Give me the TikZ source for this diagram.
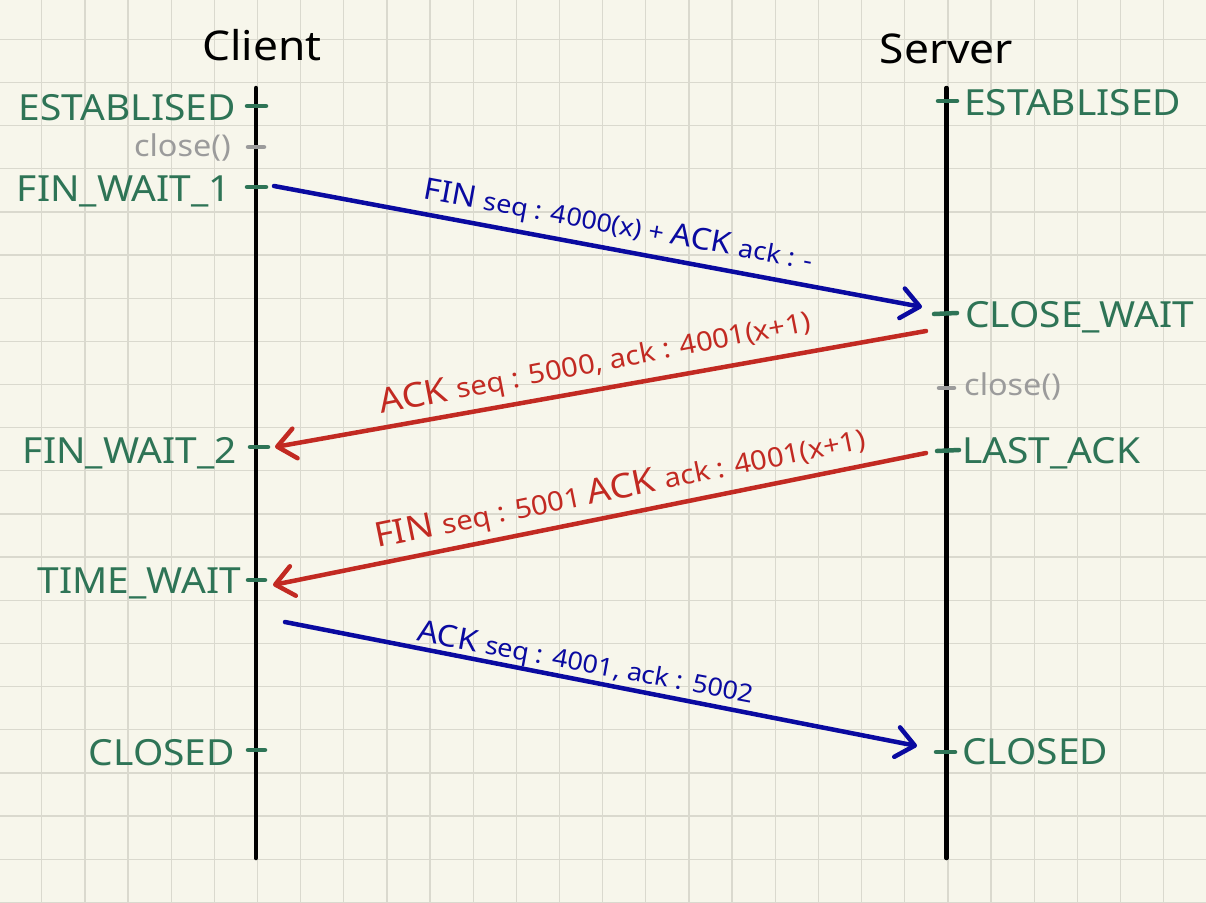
\documentclass[tikz,border=0pt]{standalone}
\usepackage{fontspec}
\setmainfont[FakeStretch=1.08]{Noto Sans}
\usetikzlibrary{arrows.meta}
\definecolor{bg}{HTML}{F7F6EB}
\definecolor{gridc}{HTML}{DAD9CE}
\definecolor{stgreen}{HTML}{2E7456}
\definecolor{callgray}{HTML}{9B9B9B}
\definecolor{msgblue}{HTML}{0A0AA0}
\definecolor{msgred}{HTML}{C22A22}
\newcommand{\Lb}[1]{{\fontsize{30}{34}\selectfont #1}}
\newcommand{\Sb}[1]{{\fontsize{25}{30}\selectfont #1}}
\newcommand{\Lr}[1]{{\fontsize{34}{38}\selectfont #1}}
\newcommand{\Sr}[1]{{\fontsize{27}{32}\selectfont #1}}
\begin{document}
\begin{tikzpicture}[x=1pt,y=-1pt,
  gridline/.style={draw=gridc, line width=1.3pt},
  lifeline/.style={line width=4.5pt, black, line cap=round},
  tickmark/.style={line width=4.5pt, stgreen, line cap=round},
  calltick/.style={line width=4.5pt, callgray, line cap=round},
  state/.style={text=stgreen, font=\fontsize{36}{40}\selectfont, inner sep=0pt},
  call/.style={text=callgray, font=\fontsize{30}{34}\selectfont, inner sep=0pt},
  title/.style={font=\fontsize{41}{46}\selectfont, inner sep=0pt, anchor=base},
  msg/.style={line width=4.5pt, line cap=round, -{Straight Barb[length=18pt,width=30pt,round]}},
  bluemsg/.style={msg, draw=msgblue},
  redmsg/.style={msg, draw=msgred},
  lbl/.style={inner sep=0pt, anchor=base}]
\useasboundingbox (0,0) rectangle (1206,902);
\fill[bg] (0,0) rectangle (1206,902);
\foreach \i in {0,...,28} {
  \draw[gridline] ({41.7+43.15*(\i-1)},0) -- ++(0,902);
}
\foreach \j in {0,...,21} {
  \draw[gridline] (0,{39.3+43.15*(\j-1)}) -- ++(1206,0);
}
% titles
\node[title] (client) at (262,60) {Client};
\node[title] (server) at (946.5,63) {Server};
% lifelines
\coordinate (ctop) at (256,88);
\coordinate (cbot) at (256,858);
\coordinate (stop) at (946.5,88);
\coordinate (sbot) at (946.5,858);
\draw[lifeline] (ctop) -- (cbot);
\draw[lifeline] (stop) -- (sbot);
% client states
\node[state, anchor=base east] (cest) at (236,120) {ESTABLISED};
\node[call, anchor=base east] (cclose) at (231,156) {close()};
\node[state, anchor=base east] (cfw1) at (231,201) {FIN\_WAIT\_1};
\node[state, anchor=base east] (cfw2) at (237,463) {FIN\_WAIT\_2};
\node[state, anchor=base east] (ctw) at (241,593) {TIME\_WAIT};
\node[state, anchor=base east] (ccl) at (235,765) {CLOSED};
\draw[tickmark] (247,106) -- (266,106);
\draw[calltick] (248,147) -- (264,147);
\draw[tickmark] (247,187) -- (266,187);
\draw[tickmark] (250,447) -- (268,447);
\draw[tickmark] (248,580) -- (265,580);
\draw[tickmark] (248,750) -- (265,750);
% server states
\node[state, anchor=base west] (sest) at (964,115) {ESTABLISED};
\node[state, anchor=base west] (scw) at (965,327) {CLOSE\_WAIT};
\node[call, anchor=base west] (sclose) at (964,395) {close()};
\node[state, anchor=base west] (sla) at (962,463) {LAST\_ACK};
\node[state, anchor=base west] (scl) at (962,764) {CLOSED};
\draw[tickmark] (938,101) -- (957,101);
\draw[tickmark] (934,314) -- (957,313);
\draw[calltick] (939,388) -- (954,388);
\draw[tickmark] (937,451) -- (959,450);
\draw[tickmark] (936,752) -- (955,752);
% message endpoints
\coordinate (m1s) at (274,186);
\coordinate (m1e) at (922,307);
\coordinate (m2s) at (926,331);
\coordinate (m2e) at (275,447);
\coordinate (m3s) at (926,453);
\coordinate (m3e) at (273,585);
\coordinate (m4s) at (285,622);
\coordinate (m4e) at (917,746);
\draw[bluemsg] (m1s) -- (m1e);
\draw[redmsg] (m2s) -- (m2e);
\draw[redmsg] (m3s) -- (m3e);
\draw[bluemsg] (m4s) -- (m4e);
% message labels
\node[lbl, text=msgblue, rotate=-10.4] (l1) at (617,234) {\Lb{FIN }\Sb{seq : 4000(x) + }\Lb{ACK }\Sb{ack : -}};
\node[lbl, text=msgred, rotate=11] (l2) at (597,372) {\Lr{ACK }\Sr{seq : 5000, ack : 4001(x+1)}};
\node[lbl, text=msgred, rotate=11.5] (l3) at (622,498) {\Lr{FIN }\Sr{seq : 5001 }\Lr{ACK }\Sr{ack : 4001(x+1)}};
\node[lbl, text=msgblue, rotate=-10.5] (l4) at (584,672) {\Lb{ACK }\Sb{seq : 4001, ack : 5002}};
\end{tikzpicture}
\end{document}
